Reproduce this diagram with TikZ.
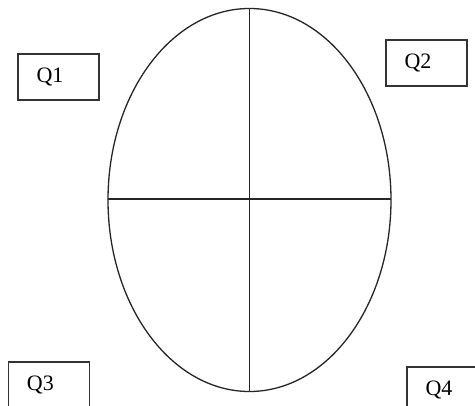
\documentclass[tikz,border=0pt]{standalone}
\usepackage{fontspec}
\setmainfont{Liberation Serif}
\usepackage{tikz}
\usetikzlibrary{positioning}

\begin{document}
\begin{tikzpicture}[x=1pt, y=-1pt, line width=1.3pt,
    qbox/.style={draw, line width=1.6pt, draw=black!80, text width=44pt, inner xsep=18.5pt, inner ysep=0pt, minimum height=46pt, align=left, font=\fontsize{22}{22}\selectfont}]
    \clip (0,0) rectangle (475,406);
    \useasboundingbox (0,0) rectangle (475,406);

    % quadrants
    \draw [black!85] (249.5,200) ellipse [x radius=141.5, y radius=191.5];
    \draw [black!85] (249.5,8.5) -- (249.5,391.5);
    \draw [black!85] (108,199) -- (391,199);

    \node (q1) [qbox] at (58.5,77) {Q1};
    \node (q2) [qbox] at (426.5,63) {Q2};
    \node (q3) [qbox] at (49,385) {Q3};
    \node (q4) [qbox] at (447.5,390) {Q4};
\end{tikzpicture}
\end{document}
